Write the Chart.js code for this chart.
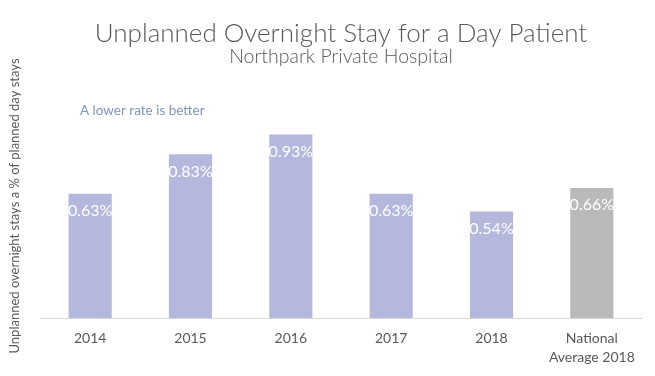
<!DOCTYPE html>
<html>
<head>
<meta charset="utf-8">
<script src="https://cdn.jsdelivr.net/npm/chart.js@4.4.1/dist/chart.umd.min.js"></script>
<style>
  html, body { margin: 0; padding: 0; background: #fff; }
</style>
</head>
<body>
<canvas id="stay-chart" width="655" height="376"></canvas>
<script>
const categories = ['2014', '2015', '2016', '2017', '2018', ['National', 'Average 2018']];
const rates = [0.63, 0.83, 0.93, 0.63, 0.54, 0.66];
const barColors = ['#b4b8dc', '#b4b8dc', '#b4b8dc', '#b4b8dc', '#b4b8dc', '#bababa'];
const yMax = 1.0;
const yTitle = 'Unplanned overnight stays a % of planned day stays';

const textGrey = '#595959';

// White value labels just inside the top of each bar
const valueLabels = {
    id: 'valueLabels',
    afterDatasetsDraw(chart) {
        const ctx = chart.ctx;
        const meta = chart.getDatasetMeta(0);
        ctx.save();
        ctx.font = '16px Lato';
        ctx.fillStyle = '#ffffff';
        ctx.textAlign = 'center';
        ctx.textBaseline = 'middle';
        meta.data.forEach((bar, i) => {
            ctx.fillText(rates[i].toFixed(2) + '%', bar.x, bar.y + 17);
        });
        ctx.restore();
    }
};

// Note above the bars and the rotated y-axis title
const extraText = {
    id: 'extraText',
    afterDraw(chart) {
        const ctx = chart.ctx;
        const area = chart.chartArea;
        ctx.save();
        ctx.font = '13.5px Lato';
        ctx.fillStyle = '#7f95b9';
        ctx.textAlign = 'left';
        ctx.textBaseline = 'middle';
        ctx.fillText('A lower rate is better', area.left + 40, area.top - 10);

        ctx.translate(15, 206);
        ctx.rotate(-Math.PI / 2);
        ctx.font = '13px Lato';
        ctx.fillStyle = textGrey;
        ctx.textAlign = 'center';
        ctx.fillText(yTitle, 0, 0);
        ctx.restore();
    }
};

new Chart(document.getElementById('stay-chart'), {
    type: 'bar',
    data: {
        labels: categories,
        datasets: [{
            data: rates,
            backgroundColor: barColors,
            categoryPercentage: 1,
            barPercentage: 0.43
        }]
    },
    options: {
        responsive: false,
        animation: false,
        devicePixelRatio: 1,
        layout: { padding: { left: 40, right: 13, top: 8, bottom: 6 } },
        plugins: {
            legend: { display: false },
            tooltip: { enabled: false },
            title: {
                display: true,
                text: 'Unplanned Overnight Stay for a Day Patient',
                color: textGrey,
                font: { family: 'Lato', size: 26, weight: 300, lineHeight: 0.9 },
                padding: { top: 14, bottom: 0 }
            },
            subtitle: {
                display: true,
                text: 'Northpark Private Hospital',
                color: textGrey,
                font: { family: 'Lato', size: 19.5, weight: 300 },
                padding: { top: 0, bottom: 52 }
            }
        },
        scales: {
            x: {
                grid: { display: false },
                border: { color: '#d9d9d9', width: 1 },
                ticks: {
                    color: textGrey,
                    font: { family: 'Lato', size: 14, lineHeight: 1.35 },
                    padding: 3
                }
            },
            y: {
                display: false,
                min: 0,
                max: yMax
            }
        }
    },
    plugins: [valueLabels, extraText]
});
</script>
</body>
</html>
